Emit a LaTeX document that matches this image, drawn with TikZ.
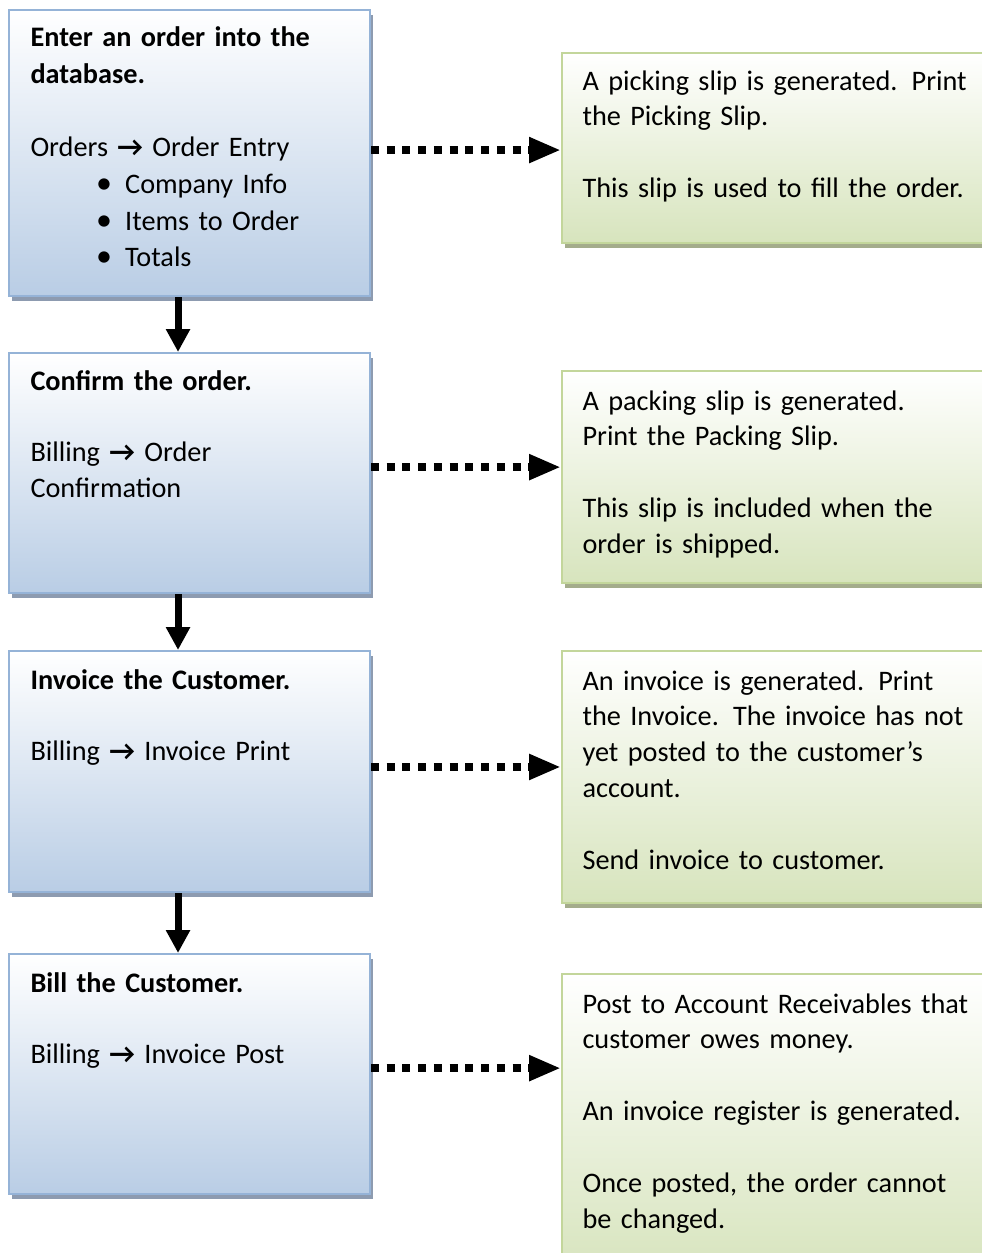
\documentclass[tikz,border=0pt]{standalone}
\usepackage{amsmath}
\usepackage{fontspec}
\setmainfont{Carlito}
\usetikzlibrary{arrows.meta,shadows,calc,positioning}
\usepackage{tikz}

\definecolor{blueline}{RGB}{149,179,215}
\definecolor{bluefill}{RGB}{185,205,229}
\definecolor{blueshade}{RGB}{141,155,176}
\definecolor{greenline}{RGB}{195,214,155}
\definecolor{greenfill}{RGB}{215,228,189}
\definecolor{greenshade}{RGB}{164,172,140}

\newcommand{\pxu}{0.375pt}
\newcommand{\menuarrow}{\textbf{→}}
\newcommand{\bulletitem}[1]{\hspace*{24.6pt}\makebox[10.9pt][l]{\large\textbullet}#1}

\tikzset{
  stepbox/.style={rectangle,anchor=north west,line width=2*\pxu,inner sep=0pt,top color=white},
  leftbox/.style={stepbox,draw=blueline,bottom color=bluefill,minimum width=361*\pxu,
    drop shadow={shadow xshift=3*\pxu,shadow yshift=-5*\pxu,fill=blueshade,opacity=1}},
  rightbox/.style={stepbox,draw=greenline,bottom color=greenfill,minimum width=430*\pxu,
    drop shadow={shadow xshift=3*\pxu,shadow yshift=-5*\pxu,fill=greenshade,opacity=1}},
  boxtext/.style={anchor=base west,align=left,text width=420*\pxu,inner sep=0pt,
    font=\fontsize{10.6}{13.45}\selectfont},
  downarrow/.style={line width=2.6pt,-{Triangle[width=8.6pt,length=8.6pt]}},
  slipArrow/.style={line width=3pt,dash pattern=on 3pt off 2.9pt,-{Triangle[width=9pt,length=12pt]}}
}

\begin{document}
\begin{tikzpicture}[x=0.375pt,y=-0.375pt]
       \useasboundingbox (0,0) rectangle (982,1253);
       \clip (0,0) rectangle (982,1253);

       \coordinate (P1) at (8,9);
       \coordinate (P2) at (8,352);
       \coordinate (P3) at (8,650);
       \coordinate (P4) at (8,953);

       \coordinate (S1) at (561,52);
       \coordinate (S2) at (561,370);
       \coordinate (S3) at (561,650);
       \coordinate (S4) at (561,973);

       \node[leftbox,minimum height=286*\pxu] (B1) at (P1) {};
       \node[leftbox,minimum height=240*\pxu] (B2) at (P2) {};
       \node[leftbox,minimum height=241*\pxu] (B3) at (P3) {};
       \node[leftbox,minimum height=240*\pxu] (B4) at (P4) {};

       \node[rightbox,minimum height=190*\pxu] (R1) at (S1) {};
       \node[rightbox,minimum height=212*\pxu] (R2) at (S2) {};
       \node[rightbox,minimum height=252*\pxu] (R3) at (S3) {};
       \node[rightbox,minimum height=300*\pxu] (R4) at (S4) {};

       \node[boxtext,font=\fontsize{10.6}{13.75}\selectfont] (T1) at ($(B1.north west)+(22,38)$) {\textbf{Enter an order into the}\\
         \textbf{database.}\\[13.75pt]
         Orders \menuarrow{} Order Entry\\
         \bulletitem{Company Info}\\
         \bulletitem{Items to Order}\\
         \bulletitem{Totals}};
       \node[boxtext] (T2) at ($(B2.north west)+(22,38)$) {\textbf{Confirm the order.}\\[13.45pt]
         Billing \menuarrow{} Order\\
         Confirmation};
       \node[boxtext] (T3) at ($(B3.north west)+(22,39)$) {\textbf{Invoice the Customer.}\\[13.45pt]
         Billing \menuarrow{} Invoice Print};
       \node[boxtext] (T4) at ($(B4.north west)+(22,39)$) {\textbf{Bill the Customer.}\\[13.45pt]
         Billing \menuarrow{} Invoice Post};

       \node[boxtext] (U1) at ($(R1.north west)+(21,38)$) {A picking slip is generated.  Print\\
         the Picking Slip.\\[13.45pt]
         This slip is used to fill the order.};
       \node[boxtext] (U2) at ($(R2.north west)+(21,40)$) {A packing slip is generated.\\
         Print the Packing Slip.\\[13.45pt]
         This slip is included when the\\
         order is shipped.};
       \node[boxtext] (U3) at ($(R3.north west)+(21,40)$) {An invoice is generated.  Print\\
         the Invoice.  The invoice has not\\
         yet posted to the customer’s\\
         account.\\[13.45pt]
         Send invoice to customer.};
       \node[boxtext] (U4) at ($(R4.north west)+(21,40)$) {Post to Account Receivables that\\
         customer owes money.\\[13.45pt]
         An invoice register is generated.\\[13.45pt]
         Once posted, the order cannot\\
         be changed.};

       \draw[downarrow] ([xshift=-4.3pt]B1.south) -- ([xshift=-4.3pt]B2.north);
       \draw[downarrow] ([xshift=-4.3pt]B2.south) -- ([xshift=-4.3pt]B3.north);
       \draw[downarrow] ([xshift=-4.3pt]B3.south) -- ([xshift=-4.3pt]B4.north);

       \draw[slipArrow] ([yshift=1.1pt]B1.east) -- ([yshift=1.1pt]B1.east -| R1.west);
       \draw[slipArrow] ([yshift=2.2pt]B2.east) -- ([yshift=2.2pt]B2.east -| R2.west);
       \draw[slipArrow] ([yshift=1.7pt]B3.east) -- ([yshift=1.7pt]B3.east -| R3.west);
       \draw[slipArrow] ([yshift=2.2pt]B4.east) -- ([yshift=2.2pt]B4.east -| R4.west);
\end{tikzpicture}
\end{document}
